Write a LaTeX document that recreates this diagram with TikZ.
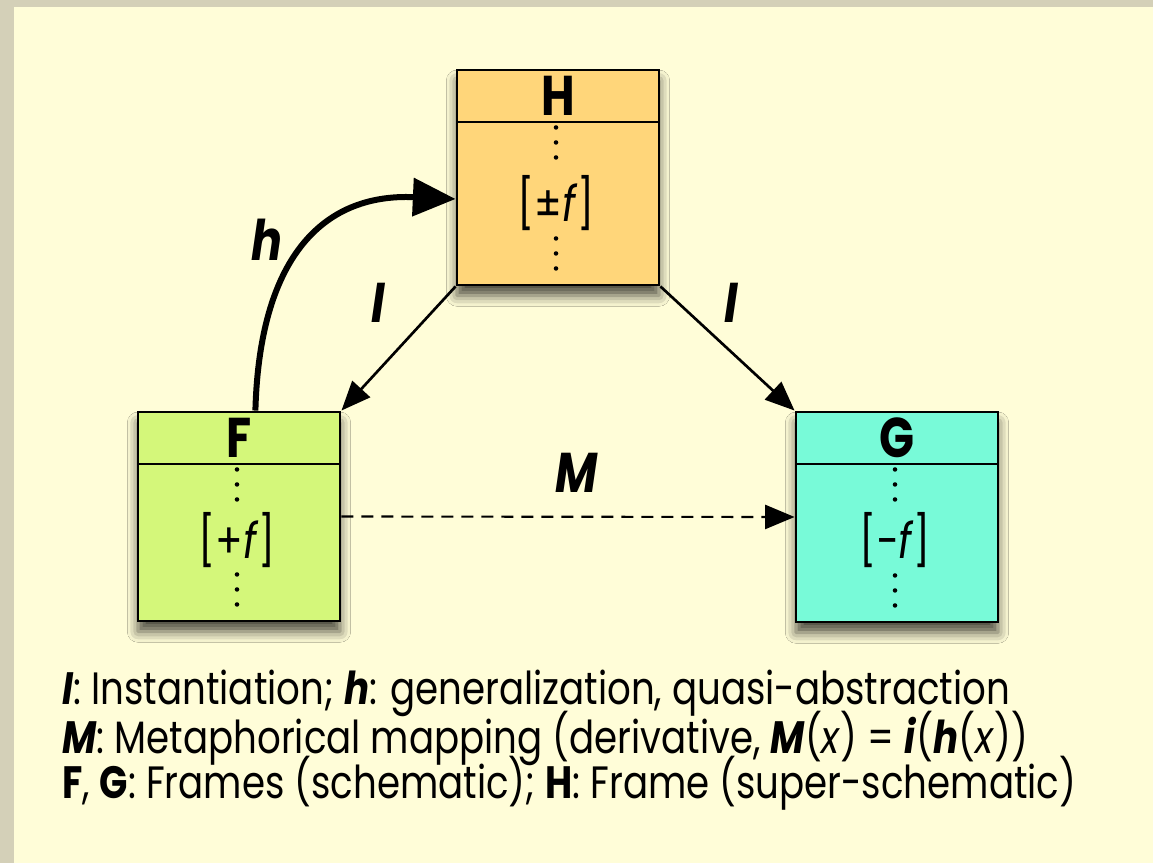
\documentclass[tikz,border=0pt]{standalone}
\usepackage{fontspec}
\setmainfont{Poppins}[FakeStretch=0.82]
\usetikzlibrary{positioning, arrows.meta, calc, shadows.blur}
\definecolor{outercol}{RGB}{212,208,184}
\definecolor{panelcol}{RGB}{255,253,216}
\definecolor{hcol}{RGB}{255,214,122}
\definecolor{fcol}{RGB}{212,247,122}
\definecolor{gcol}{RGB}{120,250,216}

\begin{document}
\begin{tikzpicture}[
    x=0.75pt, y=-0.75pt,
    frame/.style={draw, rectangle, line width=2.2pt, minimum width=151.5pt,
                  inner sep=0pt,
                  blur shadow={shadow xshift=0pt, shadow yshift=-8pt,
                               shadow blur radius=8pt, shadow opacity=70}},
    header/.style={draw, rectangle, line width=2.2pt, minimum width=151.5pt,
                   minimum height=39pt, inner sep=0pt, anchor=north,
                   font=\fontsize{42}{42}\selectfont\bfseries},
    value/.style={font=\fontsize{37}{37}\selectfont, inner sep=0pt},
    arrow/.style={-{Triangle[length=22pt, width=18pt]}, line width=2pt},
    genarrow/.style={-{Triangle[length=32pt, width=28pt]}, line width=4.5pt},
    maparrow/.style={-{Triangle[length=22pt, width=18pt]}, line width=1.6pt,
                     dash pattern=on 9pt off 6pt},
    lab/.style={font=\fontsize{42}{42}\selectfont\bfseries\itshape},
    legend/.style={font=\fontsize{34}{34}\selectfont, inner sep=0pt, anchor=west}
]

% background
\fill[outercol] (0,0) rectangle (1153,863);
\fill[panelcol] (14,7) rectangle (1153,863);

% frames
\node[frame, fill=hcol, minimum height=161.25pt] (H) at (558,177.5) {};
\node[header, fill=hcol] (Hhead) at (H.north) {H};
\node[frame, fill=fcol, minimum height=156.75pt] (F) at (239,516.5) {};
\node[header, fill=fcol] (Fhead) at (F.north) {F};
\node[frame, fill=gcol, minimum height=157.5pt] (G) at (897,517) {};
\node[header, fill=gcol] (Ghead) at (G.north) {G};

\node[value] (Hval) at ($(Hhead.south)!0.5!(H.south)+(-2,-2)$) {[±\textit{f}]};
\node[value] (Fval) at ($(Fhead.south)!0.5!(F.south)+(-2,-4)$) {[+\textit{f}]};
\node[value] (Gval) at ($(Ghead.south)!0.5!(G.south)+(-2,-4)$) {[−\textit{f}]};

% dots above and below each value
\foreach \n in {H,F,G} {
  \foreach \d in {4,19,34}
    \fill ($(\n head.south)+(-2,\d)$) circle[radius=1.7pt];
  \foreach \d in {18,33,48}
    \fill ($(\n.south)+(-2,-\d)$) circle[radius=1.7pt];
}

% connectors
\draw[arrow] (H.south west) -- (F.north east);
\draw[arrow] (H.south east) -- (G.north west);
\draw[genarrow] ($(F.north west)!0.58!(F.north east)$)
    .. controls +(4,-150) and +(-135,-6) .. (H.west |- 0,199);
\draw[maparrow] (F.east) -- (G.west);

% labels
\node[lab] (lI1) at (378,303) {I};
\node[lab] (lI2) at (731,303) {I};
\node[lab] (lh) at (267,240) {h};
\node[lab] (lM) at (577,473) {M};

% legend
\node[legend] (leg1) at (62,693) {\textbf{\textit{I}}: Instantiation; \textbf{\textit{h}}: generalization, quasi-abstraction};
\node[legend, below=33.75pt of leg1.west, anchor=west] (leg2) {\textbf{\textit{M}}: Metaphorical mapping (derivative, \textbf{\textit{M}}(\textit{x}) = \textbf{\textit{i}}(\textbf{\textit{h}}(\textit{x}))};
\node[legend, below=33.75pt of leg2.west, anchor=west] (leg3) {\textbf{F}, \textbf{G}: Frames (schematic); \textbf{H}: Frame (super-schematic)};

\end{tikzpicture}
\end{document}
